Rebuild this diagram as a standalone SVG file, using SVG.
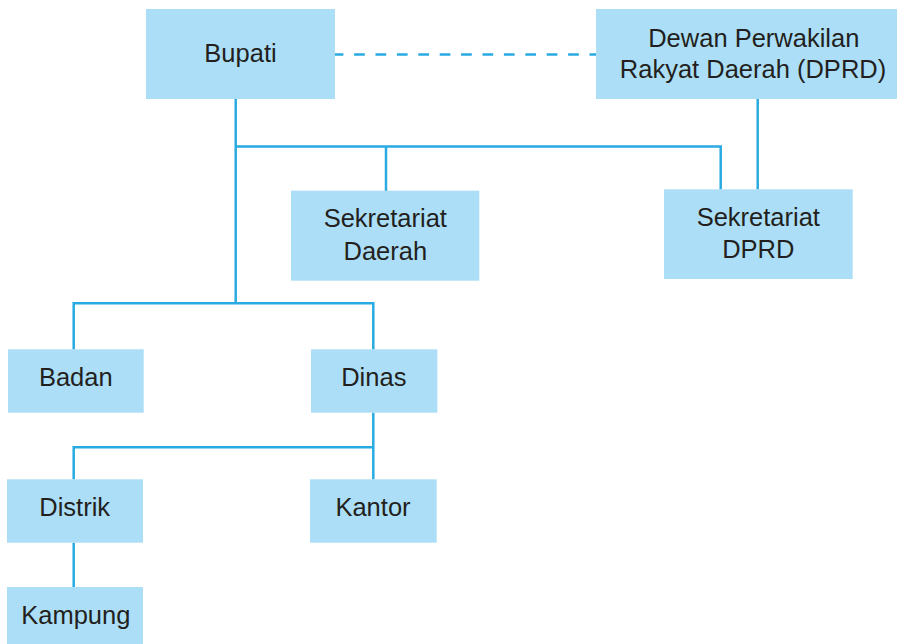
<svg xmlns="http://www.w3.org/2000/svg" width="900" height="644" viewBox="0 0 900 644">
<style>
.box{fill:#acdff7}
.lbl{font-family:"Liberation Sans",Arial,sans-serif;font-size:25.5px;fill:#231f20;text-anchor:middle}
.ln{stroke:#29abe2;stroke-width:2.5;fill:none}
.dash{stroke-dasharray:10.7 10.7;stroke-dashoffset:2.3}
</style>
<rect width="900" height="644" fill="#ffffff"/>
<g id="connectors">
<line class="ln dash" x1="335" y1="54.5" x2="596" y2="54.5"/>
<polyline class="ln" points="235.7,99 235.7,303.3"/>
<polyline class="ln" points="235.7,146.5 720.7,146.5 720.7,189.5"/>
<line class="ln" x1="386" y1="146.5" x2="386" y2="191"/>
<line class="ln" x1="757.7" y1="99" x2="757.7" y2="189.5"/>
<polyline class="ln" points="73.7,349.5 73.7,303.3 373.3,303.3 373.3,349.5"/>
<line class="ln" x1="373.3" y1="412.7" x2="373.3" y2="479.5"/>
<polyline class="ln" points="73.7,479.5 73.7,447.3 373.3,447.3"/>
<line class="ln" x1="73.7" y1="542.7" x2="73.7" y2="587"/>
</g>
<g id="bupati">
<rect class="box" x="146" y="9" width="189" height="90"/>
<text class="lbl" x="240.5" y="61.7">Bupati</text>
</g>
<g id="dprd">
<rect class="box" x="596" y="9" width="301" height="90"/>
<text class="lbl" x="753.8" y="46.7">Dewan Perwakilan</text>
<text class="lbl" x="753" y="78.3">Rakyat Daerah (DPRD)</text>
</g>
<g id="sekretariat-daerah">
<rect class="box" x="291" y="190.7" width="188.3" height="90"/>
<text class="lbl" x="385.3" y="227.3">Sekretariat</text>
<text class="lbl" x="385.3" y="260">Daerah</text>
</g>
<g id="sekretariat-dprd">
<rect class="box" x="664" y="189.3" width="188.7" height="89.7"/>
<text class="lbl" x="758.3" y="226">Sekretariat</text>
<text class="lbl" x="758.3" y="258.3">DPRD</text>
</g>
<g id="badan">
<rect class="box" x="8" y="349.3" width="135.7" height="63.4"/>
<text class="lbl" x="75.8" y="386">Badan</text>
</g>
<g id="dinas">
<rect class="box" x="311" y="349.3" width="126.3" height="63.4"/>
<text class="lbl" x="373.8" y="386">Dinas</text>
</g>
<g id="distrik">
<rect class="box" x="7" y="479.3" width="136" height="63.4"/>
<text class="lbl" x="74.7" y="516">Distrik</text>
</g>
<g id="kantor">
<rect class="box" x="310" y="479.3" width="126.7" height="63.4"/>
<text class="lbl" x="373" y="516">Kantor</text>
</g>
<g id="kampung">
<rect class="box" x="7" y="587" width="136" height="60"/>
<text class="lbl" x="75.8" y="624.3">Kampung</text>
</g>
</svg>
